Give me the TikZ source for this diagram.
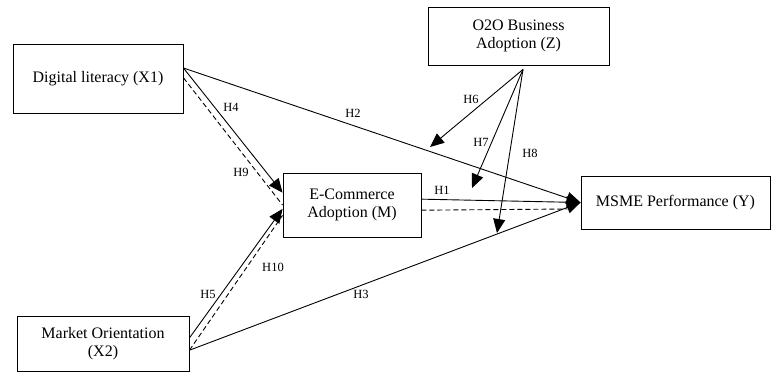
\documentclass[tikz,border=0pt]{standalone}
\usepackage{fontspec}
\setmainfont{Liberation Serif}
\usetikzlibrary{arrows.meta,calc}
\begin{document}
\begin{tikzpicture}[x=1pt,y=-1pt,
  box/.style={draw, line width=0.9pt, align=center, font=\fontsize{16}{18.5}\selectfont, inner sep=0pt},
  lab/.style={font=\fontsize{12.5}{14}\selectfont, inner sep=0pt},
  arr/.style={line width=0.9pt, -{Triangle[length=14pt,width=12pt]}},
  dashln/.style={line width=0.9pt, dash pattern=on 5pt off 3pt}
]
\useasboundingbox (0,0) rectangle (771,372);
% boxes
\node[box, minimum width=170pt, minimum height=69pt] (x1) at (98,78.5) {Digital literacy (X1)};
\node[box, minimum width=181pt, minimum height=58pt] (z) at (518.5,36) {O2O Business\\Adoption (Z)};
\node[box, minimum width=138pt, minimum height=64pt] (m) at (352,205) {E-Commerce\\Adoption (M)};
\node[box, minimum width=189pt, minimum height=53pt] (y) at (675.5,202.5) {MSME Performance (Y)};
\node[box, minimum width=172pt, minimum height=55pt] (x2) at (103,343.5) {Market Orientation\\(X2)};
% anchor coordinates
\coordinate (x1a) at ($(x1.north east)!0.35!(x1.south east)$);
\coordinate (x1b) at ($(x1.north east)!0.49!(x1.south east)$);
\coordinate (x2a) at ($(x2.north east)!0.40!(x2.south east)$);
\coordinate (x2b) at ($(x2.north east)!0.62!(x2.south east)$);
\coordinate (ma) at ($(m.north west)!0.31!(m.south west)$);
\coordinate (mb) at ($(m.north west)!0.50!(m.south west)$);
\coordinate (mc) at ($(m.north west)!0.56!(m.south west)$);
\coordinate (md) at ($(m.north west)!0.66!(m.south west)$);
\coordinate (me) at ($(m.north east)!0.41!(m.south east)$);
\coordinate (mf) at ($(m.north east)!0.58!(m.south east)$);
\coordinate (yd) at ($(y.west)+(-13,6.5)$);
\coordinate (zs) at ($(z.south)+(4.5,4)$);
\coordinate (h6t) at (430,147);
\coordinate (h7t) at (472,188);
\coordinate (h8t) at (497,233);
% connectors
\draw[arr] (x1a) -- (y.west);
\draw[arr] (x1a) -- (ma);
\draw[dashln] (x1b) -- (mb);
\draw[arr] (x2a) -- (mc);
\draw[dashln] (x2b) -- (md);
\draw[arr] (x2b) -- (y.west);
\draw[arr] (me) -- (y.west);
\draw[dashln] (mf) -- (yd);
\draw[arr] (zs) -- (h6t);
\draw[arr] (zs) -- (h7t);
\draw[arr] (zs) -- (h8t);
% labels
\node[lab] (l2) at (353,113) {H2};
\node[lab] (l4) at (231,107) {H4};
\node[lab] (l9) at (241,172) {H9};
\node[lab] (l6) at (471,99) {H6};
\node[lab] (l7) at (481,142) {H7};
\node[lab] (l8) at (530,153) {H8};
\node[lab] (l1) at (442,190) {H1};
\node[lab] (l10) at (273,267) {H10};
\node[lab] (l5) at (208,294) {H5};
\node[lab] (l3) at (361,294) {H3};
\end{tikzpicture}
\end{document}
